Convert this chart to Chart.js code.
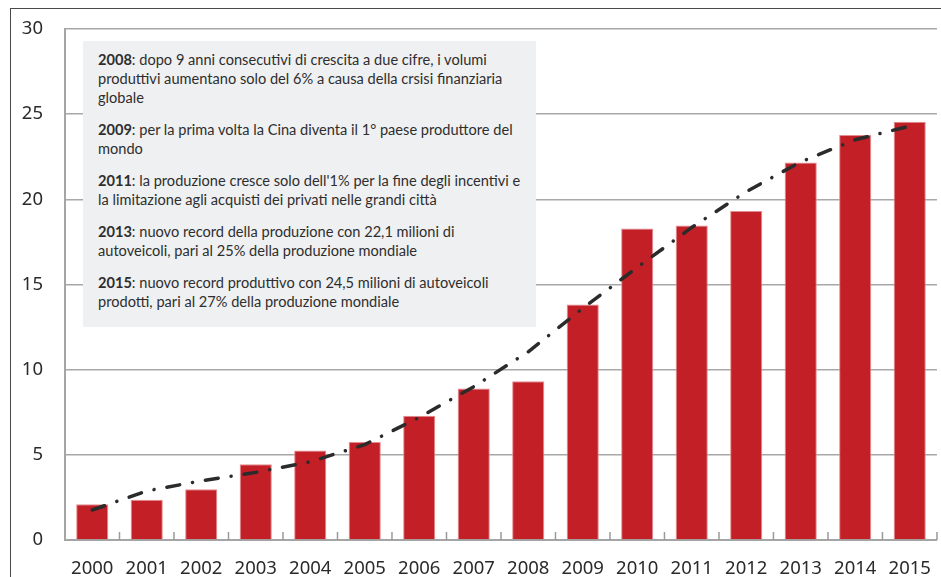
<!DOCTYPE html>
<html>
<head>
<meta charset="utf-8">
<script src="https://cdn.jsdelivr.net/npm/chart.js@4.4.1/dist/chart.umd.min.js"></script>
<style>
  body { margin: 0; background: #fff; }
  #wrap { position: relative; width: 941px; height: 577px; overflow: hidden; }
  #frame {
    position: absolute; left: 10px; top: 8px; width: 1000px; height: 700px;
    border-left: 1.5px solid #4a4a4a; border-top: 1.5px solid #4a4a4a;
  }
  canvas { position: absolute; left: 0; top: 0; }
  .note {
    position: absolute; left: 83px; top: 41px; width: 453px; height: 286px;
    background: #eff0f2; box-sizing: border-box; padding: 9px 0 0 15px;
    font-family: Lato, "Noto Sans", sans-serif; font-size: 14.6px; line-height: 19px;
    color: #2e2e2e; white-space: nowrap;
  }
  .note p { margin: 0 0 13px 0; }
</style>
</head>
<body>
<div id="wrap">
  <div id="frame"></div>
  <canvas id="chart" width="941" height="577"></canvas>
  <div class="note">
    <p><b>2008</b>: dopo 9 anni consecutivi di crescita a due cifre, i volumi<br>produttivi aumentano solo del 6% a causa della crsisi finanziaria<br>globale</p>
    <p><b>2009</b>: per la prima volta la Cina diventa il 1° paese produttore del<br>mondo</p>
    <p><b>2011</b>: la produzione cresce solo dell'1% per la fine degli incentivi e<br>la limitazione agli acquisti dei privati nelle grandi città</p>
    <p><b>2013</b>: nuovo record della produzione con 22,1 milioni di<br>autoveicoli, pari al 25% della produzione mondiale</p>
    <p><b>2015</b>: nuovo record produttivo con 24,5 milioni di autoveicoli<br>prodotti, pari al 27% della produzione mondiale</p>
  </div>
</div>
<script>
// data (milioni di autoveicoli)
const years = ['2000', '2001', '2002', '2003', '2004', '2005', '2006', '2007',
  '2008', '2009', '2010', '2011', '2012', '2013', '2014', '2015'];
const production = [2.1, 2.37, 2.98, 4.45, 5.25, 5.75, 7.3, 8.9,
  9.32, 13.82, 18.29, 18.47, 19.31, 22.16, 23.78, 24.55];
const trend = [1.76, 2.88, 3.47, 3.97, 4.59, 5.6, 7.2, 9.0,
  11.05, 13.6, 16.0, 18.35, 20.45, 22.2, 23.5, 24.3];
const yTicks = [0, 5, 10, 15, 20, 25, 30];

// small tick marks between categories, drawn upward from the x axis
const innerTicks = {
  id: 'innerTicks',
  afterDatasetsDraw(chart) {
    const x = chart.scales.x;
    const ctx = chart.ctx;
    const bottom = chart.chartArea.bottom;
    ctx.save();
    ctx.strokeStyle = '#9a9a9a';
    ctx.lineWidth = 1.5;
    for (let i = 1; i <= years.length; i++) {
      const px = i < years.length
        ? (x.getPixelForTick(i - 1) + x.getPixelForTick(i)) / 2
        : chart.chartArea.right;
      ctx.beginPath();
      ctx.moveTo(px, bottom);
      ctx.lineTo(px, bottom - 8);
      ctx.stroke();
    }
    ctx.restore();
  }
};

new Chart(document.getElementById('chart'), {
  data: {
    labels: years,
    datasets: [{
      type: 'line',
      data: trend,
      borderColor: '#2b2b2b',
      borderWidth: 3.5,
      borderDash: [13, 13, 0.1, 13],
      borderCapStyle: 'round',
      pointRadius: 0,
      fill: false,
      order: 1
    }, {
      type: 'bar',
      data: production,
      backgroundColor: '#c21f26',
      borderColor: '#e58c90',
      borderWidth: 1,
      categoryPercentage: 1,
      barPercentage: 0.59,
      order: 2
    }]
  },
  options: {
    responsive: false,
    animation: false,
    layout: { padding: { top: 29, right: 4, left: 0, bottom: 0 } },
    plugins: {
      legend: { display: false },
      tooltip: { enabled: false }
    },
    scales: {
      x: {
        offset: true,
        grid: { display: false },
        border: { display: true, color: '#a5a5a5', width: 2 },
        ticks: {
          color: '#2a2a2a',
          font: { family: '"Noto Sans", sans-serif', size: 18.5 },
          padding: 10,
          maxRotation: 0
        },
        afterFit(scale) { scale.height = 37; }
      },
      y: {
        min: 0,
        max: 30,
        afterBuildTicks(scale) { scale.ticks = yTicks.map(v => ({ value: v })); },
        grid: { color: '#a8a8a8', lineWidth: 1.5, drawTicks: false },
        border: { display: true, color: '#a5a5a5', width: 2 },
        ticks: {
          color: '#2a2a2a',
          font: { family: '"Noto Sans", sans-serif', size: 18.5 },
          padding: 22
        },
        afterFit(scale) {
          scale.width = 65;
          scale.paddingTop = 0;
          scale.paddingBottom = 0;
        }
      }
    }
  },
  plugins: [innerTicks]
});
</script>
</body>
</html>
